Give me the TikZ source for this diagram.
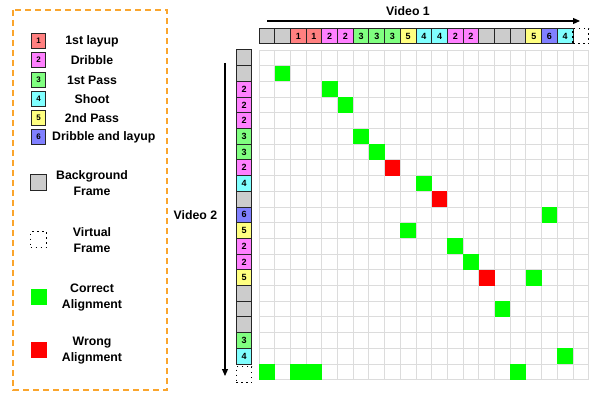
\documentclass[tikz,border=0pt]{standalone}
\usepackage{fontspec}
\setmainfont{Liberation Sans}
\usetikzlibrary{arrows.meta,positioning}
\definecolor{act1}{RGB}{255,128,128}
\definecolor{act2}{RGB}{255,128,255}
\definecolor{act3}{RGB}{128,255,128}
\definecolor{act4}{RGB}{128,255,255}
\definecolor{act5}{RGB}{255,255,128}
\definecolor{act6}{RGB}{128,128,255}
\definecolor{bgframe}{RGB}{204,204,204}
\definecolor{okgreen}{RGB}{0,255,0}
\definecolor{badred}{RGB}{255,0,0}
\definecolor{legendorange}{RGB}{250,165,45}
\definecolor{gridgray}{RGB}{220,220,220}

\begin{document}
\begin{tikzpicture}[
  x=1pt, y=-1pt,
  frm/.style={draw=black!85, line width=1pt, minimum size=15.7pt, inner sep=0pt,
    outer sep=0pt, font=\fontsize{9}{9}\selectfont\bfseries},
  virt/.style={draw=black, line width=1.2pt, dash pattern=on 1.5pt off 3.5pt,
    minimum size=15.7pt, inner sep=0pt},
  hit/.style={fill=okgreen, minimum size=15.7pt, inner sep=0pt},
  miss/.style={fill=badred, minimum size=15.7pt, inner sep=0pt},
  key/.style={draw=black!85, line width=1pt, minimum size=14.5pt, inner sep=0pt,
    font=\fontsize{8}{8}\selectfont\bfseries},
  lbl/.style={font=\fontsize{12.3}{16}\selectfont\bfseries, align=center, inner sep=0pt},
  gridline/.style={gridgray, line width=0.9pt},
  arr/.style={-{Triangle[length=7pt,width=6pt]}, line width=1.1pt},
]
  \useasboundingbox (0,0) rectangle (596,393);

  % Legend
  \draw[legendorange, line width=1.4pt, dash pattern=on 6pt off 4pt] (13,10) rectangle (167,390);
  \foreach \c/\t/\y in {act1/1/41, act2/2/60, act3/3/80, act4/4/99, act5/5/118} {
    \node[key, fill=\c] (k\t) at (38.5,\y) {\t};
  }
  \node[key, fill=act6] (k6) at (38.5,137) {6};
  \node[lbl] (l1) at (92,41) {1st layup};
  \node[lbl] (l2) at (92,60) {Dribble};
  \node[lbl] (l3) at (92,80) {1st Pass};
  \node[lbl] (l4) at (92,99) {Shoot};
  \node[lbl] (l5) at (92,118) {2nd Pass};
  \node[lbl, anchor=west] (l6) at (52,137) {Dribble and layup};

  \node[frm, fill=bgframe, minimum size=16pt] (kbg) at (38.5,182.5) {};
  \node[lbl] (lbg) at (92,183) {Background\\Frame};
  \node[virt, minimum size=16pt] (kvirt) at (38.5,239.5) {};
  \node[lbl] (lvirt) at (92,240.5) {Virtual\\Frame};
  \node[hit, minimum size=16pt] (kok) at (39,296.5) {};
  \node[lbl] (lok) at (92,298) {Correct\\Alignment};
  \node[miss, minimum size=16pt] (kbad) at (39,350) {};
  \node[lbl] (lbad) at (92,350.5) {Wrong\\Alignment};

  % Grid
  \foreach \k in {0,...,21} {
    \draw[gridline] ({259+15.7*\k},50) -- ({259+15.7*\k},379.7);
    \draw[gridline] (259,{50+15.7*\k}) -- (588.7,{50+15.7*\k});
  }

  % Video 1 (top row)
  \foreach \c/\t [count=\i from 0] in {bgframe/{},bgframe/{},act1/1,act1/1,act2/2,act2/2,act3/3,
      act3/3,act3/3,act5/5,act4/4,act4/4,act2/2,act2/2,bgframe/{},bgframe/{},bgframe/{},act5/5,
      act6/6,act4/4} {
    \node[frm, fill=\c] (top\i) at ({266.85+15.7*\i},36) {\t};
  }
  \node[virt] (top20) at ({266.85+15.7*20},36) {};

  % Video 2 (left column)
  \foreach \c/\t [count=\i from 0] in {bgframe/{},bgframe/{},act2/2,act2/2,act2/2,act3/3,act3/3,
      act2/2,act4/4,bgframe/{},act6/6,act5/5,act2/2,act2/2,act5/5,bgframe/{},bgframe/{},bgframe/{},
      act3/3,act4/4} {
    \node[frm, fill=\c] (left\i) at (244,{57.85+15.7*\i}) {\t};
  }
  \node[virt] (left20) at (244,374.5) {};

  % Alignments
  \foreach \c/\r [count=\n] in {1/1,4/2,5/3,6/5,7/6,10/8,18/10,9/11,12/12,13/13,17/14,15/16,
      19/19,0/20,2/20,3/20,16/20} {
    \node[hit] (ok\n) at ({266.85+15.7*\c},{57.85+15.7*\r}) {};
  }
  \foreach \c/\r [count=\n] in {8/7,11/9,14/14} {
    \node[miss] (bad\n) at ({266.85+15.7*\c},{57.85+15.7*\r}) {};
  }

  % Axes
  \coordinate (v1a) at (267,21);
  \coordinate (v1b) at (580,21);
  \draw[arr] (v1a) -- (v1b);
  \node[lbl] (v1lbl) at (408,11) {Video 1};
  \coordinate (v2a) at (225,63);
  \coordinate (v2b) at (225,376);
  \draw[arr] (v2a) -- (v2b);
  \node[lbl] (v2lbl) at (195.5,215.5) {Video 2};
\end{tikzpicture}
\end{document}
